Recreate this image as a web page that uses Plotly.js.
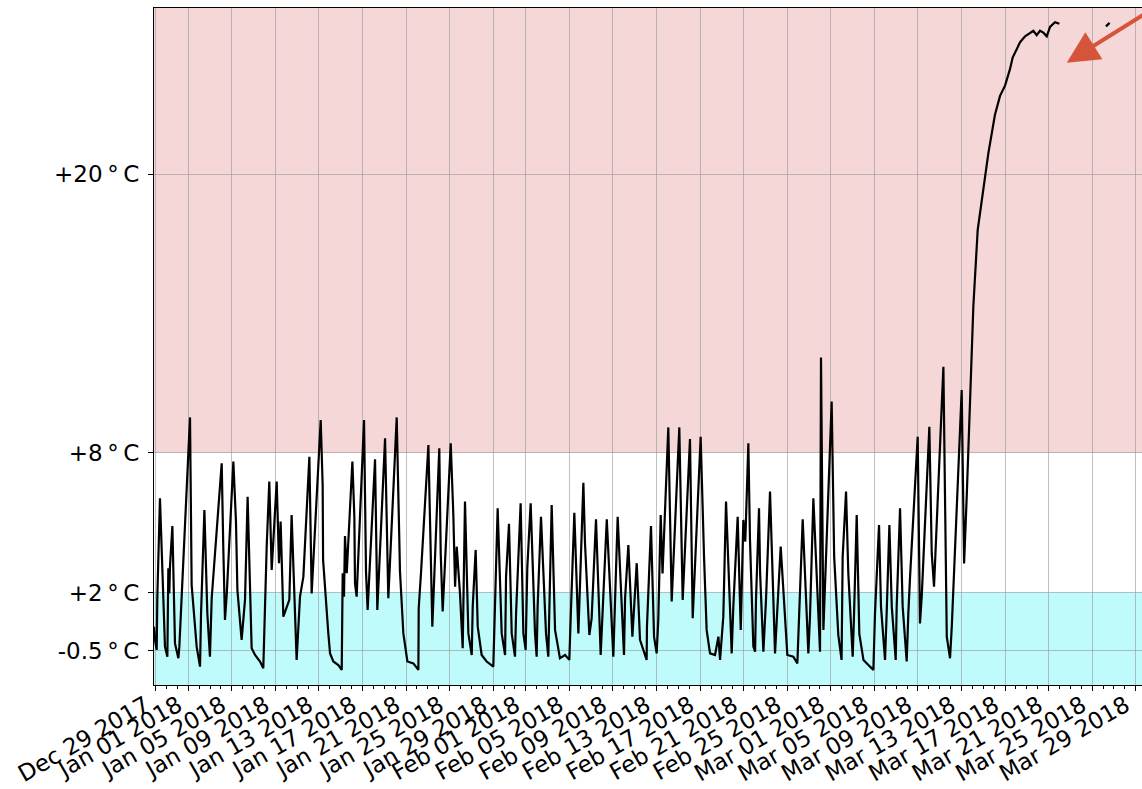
<!DOCTYPE html>
<html><head><meta charset="utf-8">
<script src="https://cdn.plot.ly/plotly-3.0.1.min.js"></script>
<style>html,body{margin:0;padding:0;overflow:hidden;background:#fff}</style>
</head><body><div id="chart" style="width:1200px;height:789px"></div>
<script>
// days after 2017-12-29 00:00
const dayOffsets = [
-0.15,-0.06,0.10,0.16,0.40,0.65,0.86,1.08,1.17,1.26,1.32,1.54,1.78,2.09,2.18,3.16,3.31,3.77,4.08,4.17,4.29,4.48,4.75,4.99,5.15,5.36,6.07,6.22,6.37,6.53,7.14,7.38,7.51,7.90,8.21,8.45,8.82,9.13,9.59,9.89,10.20,10.44,10.66,11.12,11.33,11.48,11.73,12.28,12.49,12.95,13.26,13.57,14.12,14.33,15.16,15.34,15.38,15.86,16.02,16.32,16.78,17.09,17.18,17.30,17.39,17.55,18.07,18.25,18.31,18.46,19.14,19.32,19.47,20.15,20.36,21.07,21.31,21.37,22.14,22.38,22.44,22.75,23.12,23.67,24.13,24.16,24.37,25.05,25.29,25.41,26.05,26.18,26.36,27.10,27.34,27.50,27.65,27.95,28.20,28.41,28.72,29.03,29.12,29.39,29.58,29.94,30.40,31.01,31.41,31.78,32.09,32.18,32.45,32.70,33.00,33.10,33.52,33.77,33.98,34.13,34.44,34.84,34.99,35.08,35.39,35.85,36.06,36.16,36.37,36.68,37.13,37.60,37.99,38.11,38.45,38.82,39.28,39.43,39.83,40.04,40.44,40.87,41.05,41.43,42.03,42.43,43.01,43.11,43.41,43.78,44.18,44.48,45.09,45.12,45.49,45.77,46.01,46.16,46.38,46.55,47.08,47.39,48.09,48.40,49.07,49.32,50.05,50.24,50.36,50.60,50.91,51.37,51.68,51.83,52.13,52.38,52.90,53.05,53.45,53.73,53.97,54.15,54.43,54.58,54.89,55.05,55.13,55.41,55.51,55.81,56.05,56.42,56.88,57.04,57.40,58.01,58.56,58.93,59.11,59.42,59.94,60.09,60.40,61.01,61.10,61.32,62.08,62.29,62.31,62.69,62.99,63.09,63.40,63.61,64.01,64.13,64.38,64.62,65.00,65.45,65.91,66.06,66.43,66.61,66.98,67.13,67.38,67.60,67.96,68.05,68.36,68.60,68.97,69.12,69.28,69.98,70.19,70.35,71.05,71.27,71.48,72.34,72.65,72.95,73.11,74.02,74.17,74.24,74.48,74.63,75.09,75.49,76.16,76.47,77.07,77.54,78.00,78.46,78.70,79.38,79.84,80.30,80.60,80.91,81.21,81.52,81.83,82.13,82.59,82.99,85.00,87.27,87.60
];
const temps = [
0.53,-0.04,-0.47,1.82,6.05,2.04,-0.33,-0.76,3.04,1.96,3.11,4.86,-0.19,-0.83,-0.33,9.53,2.32,-0.33,-1.19,1.03,2.47,5.55,1.10,-0.76,1.75,3.11,7.56,3.83,0.82,1.89,7.63,5.05,2.11,-0.04,1.68,6.12,-0.40,-0.69,-0.97,-1.26,3.97,6.77,2.97,6.77,3.26,5.05,0.96,1.68,5.33,-0.90,1.82,2.68,7.84,1.96,9.42,6.62,3.40,0.24,-0.62,-0.97,-1.12,-1.33,2.83,1.82,4.43,2.83,7.63,5.26,2.40,1.82,9.42,2.90,1.25,7.73,1.25,8.63,3.97,1.75,9.53,4.26,2.90,0.24,-0.97,-1.05,-1.33,1.32,2.83,8.34,2.68,0.53,8.20,3.69,1.18,8.42,5.33,2.25,3.97,1.96,-0.40,5.91,0.24,-0.69,1.39,3.83,0.53,-0.69,-0.97,-1.19,5.62,0.24,-0.69,2.68,4.95,0.24,-0.76,1.10,5.84,0.24,-0.47,3.04,5.84,0.24,-0.76,1.39,5.26,0.24,-0.76,1.10,5.76,0.39,-0.83,-0.69,-0.90,0.82,5.43,0.24,6.72,4.12,0.17,0.89,5.15,-0.69,1.39,5.15,-0.76,5.26,-0.69,1.75,4.04,0.10,3.26,-0.04,-0.90,0.53,4.86,0.10,-0.62,0.82,5.33,2.82,9.10,1.61,9.10,1.68,8.60,0.89,8.70,5.41,3.54,0.39,-0.62,-0.69,0.10,-0.90,0.96,5.91,-0.62,1.39,5.26,0.39,5.12,4.19,8.42,4.26,-0.33,-0.55,1.68,5.62,2.82,-0.55,1.68,6.34,-0.62,0.82,3.97,-0.69,-0.76,-1.05,0.96,5.15,-0.62,0.96,6.05,-0.55,12.11,0.39,10.21,5.41,3.54,0.17,-0.90,3.54,6.34,2.82,-0.76,0.96,5.33,0.22,-0.90,-1.12,-1.33,1.10,4.90,1.39,-0.90,1.10,4.90,1.39,-0.90,1.39,5.62,1.39,-0.97,1.10,2.68,8.70,0.67,1.82,9.13,3.68,2.25,11.71,0.10,-0.83,0.53,10.71,5.55,3.25,6.10,8.00,14.30,17.60,19.96,20.90,22.54,23.36,23.80,24.52,25.01,25.67,25.92,26.08,26.16,25.97,26.16,26.08,25.92,26.33,26.53,26.46,null,26.35,26.50
];
const tickDates = ['2017-12-29','2018-01-01','2018-01-05','2018-01-09','2018-01-13','2018-01-17','2018-01-21','2018-01-25','2018-01-29','2018-02-01','2018-02-05','2018-02-09','2018-02-13','2018-02-17','2018-02-21','2018-02-25','2018-03-01','2018-03-05','2018-03-09','2018-03-13','2018-03-17','2018-03-21','2018-03-25','2018-03-29'];
const tickLabels = ['Dec 29 2017','Jan 01 2018','Jan 05 2018','Jan 09 2018','Jan 13 2018','Jan 17 2018','Jan 21 2018','Jan 25 2018','Jan 29 2018','Feb 01 2018','Feb 05 2018','Feb 09 2018','Feb 13 2018','Feb 17 2018','Feb 21 2018','Feb 25 2018','Mar 01 2018','Mar 05 2018','Mar 09 2018','Mar 13 2018','Mar 17 2018','Mar 21 2018','Mar 25 2018','Mar 29 2018'];
const tempTicks = [-0.5, 2, 8, 20];
const tempLabels = ['-0.5\u2009°\u2009C', '+2\u2009°\u2009C', '+8\u2009°\u2009C', '+20\u2009°\u2009C'];
const coldLimit = 2;
const warmLimit = 8;

function toDate(d){
  const ms = Date.UTC(2017,11,29) + d*86400000;
  return new Date(ms).toISOString().replace('T',' ').slice(0,19);
}
const xs = dayOffsets.map(toDate);

const trace = {x: xs, y: temps, type:'scatter', mode:'lines', connectgaps:false,
  line:{color:'#000', width:2.2}, hoverinfo:'skip'};

const xfont = {family:'DejaVu Sans, sans-serif', size:23, color:'#000'};
const yfont = {family:'DejaVu Sans, sans-serif', size:23, color:'#000'};
const layout = {
  width:1200, height:789,
  margin:{l:154, r:40, t:8, b:104, pad:0},
  paper_bgcolor:'#fff', plot_bgcolor:'#fff',
  showlegend:false,
  font: xfont,
  xaxis:{type:'date', range:[toDate(-0.147), toDate(92.23)],
    tickmode:'array', tickvals:tickDates, ticktext:tickLabels, tickangle:-30,
    tickfont:xfont, ticks:'outside', ticklen:5, tickcolor:'#000',
    ticklabelstandoff:-8, ticklabelshift:-10,
    showgrid:true, gridcolor:'rgba(150,150,150,0.6)', gridwidth:1,
    showline:true, linecolor:'#000', linewidth:1, mirror:true, zeroline:false,
    minor:{ticks:'outside', ticklen:3, tickcolor:'#000', dtick:86400000, tick0:'2017-12-29', showgrid:false}},
  yaxis:{range:[-1.98, 27.14], tickmode:'array', tickvals:tempTicks, ticktext:tempLabels,
    tickfont:yfont, ticks:'outside', ticklen:5, tickcolor:'#000', ticklabelstandoff:4,
    showgrid:true, gridcolor:'rgba(150,150,150,0.6)', gridwidth:1,
    showline:true, linecolor:'#000', linewidth:1, mirror:false, zeroline:false},
  shapes:[
    {type:'rect', xref:'paper', yref:'y', x0:0, x1:1, y0:-10, y1:coldLimit, fillcolor:'rgb(192,251,251)', line:{width:0}, layer:'below'},
    {type:'rect', xref:'paper', yref:'y', x0:0, x1:1, y0:warmLimit, y1:60, fillcolor:'rgb(246,215,216)', line:{width:0}, layer:'below'}
  ],
  annotations:[
    {xref:'paper', yref:'paper', x:0.9073, y:0.9192, text:'', showarrow:true,
     ax:100, ay:-76, arrowcolor:'rgb(214,85,58)', arrowwidth:4, arrowhead:2, arrowsize:1.6, standoff:0}
  ]
};
Plotly.newPlot('chart', [trace], layout, {displayModeBar:false, staticPlot:true});
</script></body></html>
